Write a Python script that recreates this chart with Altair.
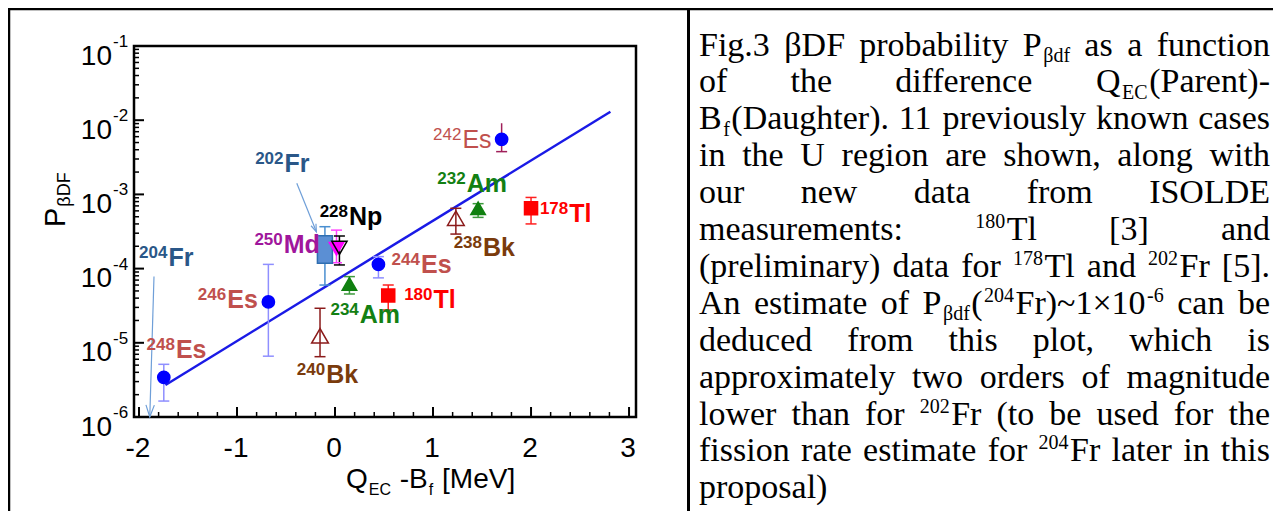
import math
import re
import altair as alt
import pandas as pd

# ---------------- values ----------------
pt_name = ["248Es", "246Es", "244Es", "242Es", "250Md", "228Np",
           "234Am", "232Am", "240Bk", "238Bk", "180Tl", "178Tl"]
pt_x = [-1.747, -0.68, 0.443, 1.70, 0.015, 0.045, 0.147, 1.46, -0.153, 1.233, 0.543, 2.00]
pt_y = [3.43e-6, 3.55e-5, 1.14e-4, 5.53e-3, 1.85e-4, 1.90e-4, 6.2e-5, 6.5e-4, 1.24e-5, 4.77e-4, 4.34e-5, 6.5e-4]
pt_lo = [1.64e-6, 6.6e-6, 7.5e-5, 3.77e-3, 1.2e-4, 1.12e-4, 4.55e-5, 4.9e-4, 6.5e-6, 2.92e-4, 2.77e-5, 4.0e-4]
pt_hi = [5.13e-6, 1.14e-4, 1.45e-4, 9.1e-3, 3.3e-4, 2.75e-4, 7.8e-5, 7.5e-4, 2.92e-5, 6.5e-4, 6.0e-5, 9.1e-4]

# 202Fr (box = range, whiskers = uncertainty)
fr_x = [-0.103]
fr_box_lo = [1.18e-4]
fr_box_hi = [2.77e-4]
fr_err_lo = [6.0e-5]
fr_err_hi = [3.67e-4]

# systematics fit line
fit_x = [-1.73, 2.81]
fit_y = [2.7e-6, 1.30e-2]

# arrows (204Fr estimate, 202Fr pointer)
arr_x = [-1.847, -0.39]
arr_y = [7.8e-5, 1.41e-3]
arr_x2 = [-1.89, -0.19]
arr_y2 = [1.0e-6, 3.14e-4]

# isotope labels
lab_mass = ["248", "246", "244", "242", "204", "202", "250", "228", "234", "232", "240", "238", "180", "178"]
lab_sym = ["Es", "Es", "Es", "Es", "Fr", "Fr", "Md", "Np", "Am", "Am", "Bk", "Bk", "Tl", "Tl"]
lab_x = [-1.623, -1.10, 0.877, 1.30, -1.70, -0.515, -0.523, 0.143, 0.253, 1.343, -0.09, 1.51, 1.005, 2.39]
lab_y = [6.18e-6, 2.92e-5, 8.65e-5, 4.18e-3, 1.08e-4, 2.02e-3, 1.61e-4, 3.87e-4, 1.83e-5, 1.07e-3,
         2.84e-6, 1.49e-4, 2.92e-5, 4.29e-4]

# axes
x_major = [-2, -1, 0, 1, 2, 3]
x_major_lab = ["-2", "-1", "0", "1", "2", "3"]
x_minor = [-1.8, -1.6, -1.4, -1.2, -0.8, -0.6, -0.4, -0.2, 0.2, 0.4, 0.6, 0.8,
           1.2, 1.4, 1.6, 1.8, 2.2, 2.4, 2.6, 2.8]
y_major = [1e-6, 1e-5, 1e-4, 1e-3, 1e-2, 1e-1]
y_major_exp = ["-6", "-5", "-4", "-3", "-2", "-1"]
y_minor = [m * 10.0 ** e for e in range(-6, -1) for m in range(2, 10)]

caption_lines = [
    "Fig.3 βDF probability P_{βdf} as a function",
    "of the difference Q_{EC}(Parent)-",
    "B_{f}(Daughter). 11 previously known cases",
    "in the U region are shown, along with",
    "our new data from ISOLDE",
    "measurements: ^{180}Tl [3] and",
    "(preliminary) data for ^{178}Tl and ^{202}Fr [5].",
    "An estimate of P_{βdf}(^{204}Fr)~1×10^{-6} can be",
    "deduced from this plot, which is",
    "approximately two orders of magnitude",
    "lower than for ^{202}Fr (to be used for the",
    "fission rate estimate for ^{204}Fr later in this",
    "proposal)",
]

# ---------------- styles ----------------
pt_shape = ["circle"] * 4 + ["triangle-down", "triangle-down", "triangle-up", "triangle-up",
                             "triangle-up", "triangle-up", "square", "square"]
pt_fill = ["#0000ff"] * 4 + ["#ff00ff", "transparent", "#108010", "#108010",
                             "transparent", "transparent", "#ff0000", "#ff0000"]
pt_stroke = ["#0000ff"] * 4 + ["#ff00ff", "#000000", "#108010", "#108010",
                               "#8b1a1a", "#8b1a1a", "#ff0000", "#ff0000"]
pt_size = [150, 150, 150, 150, 210, 230, 210, 210, 280, 280, 170, 170]
err_color = ["#8f8fff", "#8f8fff", "#8f8fff", "#a0205a", "#ff40ff", "#000000",
             "#3c9a3c", "#3c9a3c", "#8b1a1a", "#8b1a1a", "#ff2020", "#ff2020"]
lab_color = ["#c0504d", "#c0504d", "#c0504d", "#c0504d", "#2a5788", "#2a5788", "#a0169c", "#000000",
             "#138013", "#138013", "#7a3b0c", "#7a3b0c", "#ff0000", "#ff0000"]
lab_bold = [True, True, True, False, True, True, True, True, True, True, True, True, True, True]

PLOT_W, PLOT_H = 502, 371
PX_PER_MEV = PLOT_W / 5.02
PX_PER_DEC = PLOT_H / 5.0
SANS = "Liberation Sans"
SERIF = "Liberation Serif"

xs = alt.Scale(domain=[-2, 3.02], nice=False, zero=False)
ys = alt.Scale(type="log", domain=[1e-6, 1e-1], nice=False)
X = alt.X("x:Q", scale=xs, axis=None)
Y = alt.Y("y:Q", scale=ys, axis=None)

TIMES = {' ': 250, 'a': 444, 'b': 500, 'c': 444, 'd': 500, 'e': 444, 'f': 333, 'g': 500, 'h': 500,
         'i': 278, 'j': 278, 'k': 500, 'l': 278, 'm': 778, 'n': 500, 'o': 500, 'p': 500, 'q': 500,
         'r': 333, 's': 389, 't': 278, 'u': 500, 'v': 500, 'w': 722, 'x': 500, 'y': 500, 'z': 444,
         'A': 722, 'B': 667, 'C': 667, 'D': 722, 'E': 611, 'F': 556, 'G': 722, 'H': 722, 'I': 333,
         'L': 611, 'M': 889, 'N': 722, 'O': 722, 'P': 556, 'Q': 722, 'R': 667, 'S': 556, 'T': 611,
         'U': 722, '.': 250, ',': 250, ':': 278, '(': 333, ')': 333, '-': 333, '[': 333, ']': 333,
         '~': 541, '×': 564, 'β': 500}
for d in "0123456789":
    TIMES[d] = 500
ARIAL = {' ': 278, '-': 333, '[': 278, ']': 278, 'B': 667, 'C': 722, 'D': 722, 'E': 667, 'F': 611,
         'M': 833, 'P': 667, 'Q': 778, 'V': 667, 'e': 556, 'f': 278, 'β': 575}


def width_of(s, table, fs):
    return sum(table.get(c, 500) for c in s) * fs / 1000.0


def parse_word(word):
    parts = []
    for m in re.finditer(r'_\{([^}]*)\}|\^\{([^}]*)\}|([^_^]+)', word):
        if m.group(1) is not None:
            parts.append((m.group(1), 'sub'))
        elif m.group(2) is not None:
            parts.append((m.group(2), 'sup'))
        else:
            parts.append((m.group(3), 'n'))
    return parts


# ---------------- caption layout (justified) ----------------
CFS = {'n': 34, 'sub': 20, 'sup': 20}
CDY = {'n': 0, 'sub': 6.5, 'sup': -12}
SEG_GAP = 1.5
L, R = 565, 1136
cap_rows = []
for i, line in enumerate(caption_lines):
    base = 9.5 + i * 36.9
    words = [parse_word(w) for w in line.split(' ')]
    widths = [sum(width_of(t, TIMES, CFS[k]) for t, k in wd) + SEG_GAP * (len(wd) - 1) for wd in words]
    if i < len(caption_lines) - 1 and len(words) > 1:
        gap = (R - L - sum(widths)) / (len(words) - 1)
    else:
        gap = 0.25 * 34
    xcur = L
    for wd, ww in zip(words, widths):
        xx = xcur
        for t, k in wd:
            cap_rows.append(dict(px=xx, py=base + CDY[k], text=t, fs=CFS[k]))
            xx += width_of(t, TIMES, CFS[k]) + SEG_GAP
        xcur += ww + gap
cap_df = pd.DataFrame(cap_rows)

# ---------------- axis titles (sans) ----------------
sans_rows = []
xt = [("Q", 28, 0), ("EC", 16, 7), (" -B", 28, 0), ("f", 16, 7), (" [MeV]", 28, 0)]
xx = 212
for t, fs, dy in xt:
    lead = len(t) - len(t.lstrip(' '))
    xx += width_of(' ' * lead, ARIAL, fs)
    sans_rows.append(dict(px=xx, py=442.3 + dy, text=t.strip(), fs=fs, ang=0))
    xx += width_of(t.strip(), ARIAL, fs) + 1
sans_rows.append(dict(px=-69, py=181, text="P", fs=29, ang=270))
sans_rows.append(dict(px=-64, py=180 - width_of("P", ARIAL, 29), text="βDF", fs=18, ang=270))
sans_df = pd.DataFrame(sans_rows)

# ---------------- layers ----------------
pts = pd.DataFrame(dict(name=pt_name, x=pt_x, y=pt_y, lo=pt_lo, hi=pt_hi, shape=pt_shape,
                        fill=pt_fill, stroke=pt_stroke, size=pt_size, ecol=err_color))

fit = alt.Chart(pd.DataFrame(dict(x=fit_x, y=fit_y))).mark_line(
    color="#1a1ae6", strokeWidth=2.5).encode(x=X, y=Y)

ang = []
for x1, y1, x2, y2 in zip(arr_x, arr_y, arr_x2, arr_y2):
    dxp = (x2 - x1) * PX_PER_MEV
    dyp = (math.log10(y1) - math.log10(y2)) * PX_PER_DEC
    ang.append((-math.degrees(math.atan2(dxp, dyp))) % 360)
arr_df = pd.DataFrame(dict(x=arr_x, y=arr_y, x2=arr_x2, y2=arr_y2, ang=ang, hs=[576, 230]))
arrows = alt.Chart(arr_df).mark_rule(color="#6f9fd8", strokeWidth=1.2).encode(
    x=X, y=Y, x2="x2:Q", y2="y2:Q")
heads = alt.Chart(arr_df).mark_point(shape="M-0.35,-1L0,0L0.35,-1", filled=False, color="#6f9fd8",
                                     strokeWidth=1.2, opacity=1).encode(
    x=alt.X("x2:Q", scale=xs, axis=None), y=alt.Y("y2:Q", scale=ys, axis=None),
    angle=alt.Angle("ang:Q", scale=None), size=alt.Size("hs:Q", scale=None))

err_rule = alt.Chart(pts).mark_rule(strokeWidth=1.5).encode(
    x=X, y=alt.Y("lo:Q", scale=ys, axis=None), y2="hi:Q", color=alt.Color("ecol:N", scale=None))
cap_lo = alt.Chart(pts).mark_tick(orient="horizontal", size=11, thickness=1.5, opacity=1).encode(
    x=X, y=alt.Y("lo:Q", scale=ys, axis=None), color=alt.Color("ecol:N", scale=None))
cap_hi = alt.Chart(pts).transform_filter(alt.datum.name != "242Es").mark_tick(
    orient="horizontal", size=11, thickness=1.5, opacity=1).encode(
    x=X, y=alt.Y("hi:Q", scale=ys, axis=None), color=alt.Color("ecol:N", scale=None))

fr_df = pd.DataFrame(dict(x=fr_x, blo=fr_box_lo, bhi=fr_box_hi, elo=fr_err_lo, ehi=fr_err_hi))
fr_err = alt.Chart(fr_df).mark_rule(color="#4a8fd0", strokeWidth=1.5).encode(
    x=X, y=alt.Y("elo:Q", scale=ys, axis=None), y2="ehi:Q")
fr_cap_lo = alt.Chart(fr_df).mark_tick(orient="horizontal", size=11, thickness=1.5, opacity=1,
                                       color="#4a8fd0").encode(x=X, y=alt.Y("elo:Q", scale=ys, axis=None))
fr_cap_hi = alt.Chart(fr_df).mark_tick(orient="horizontal", size=11, thickness=1.5, opacity=1,
                                       color="#4a8fd0").encode(x=X, y=alt.Y("ehi:Q", scale=ys, axis=None))
fr_box = alt.Chart(fr_df).mark_bar(width=15, fill="#5b8fd4", stroke="#2f6eb0", strokeWidth=1.5).encode(
    x=X, y=alt.Y("blo:Q", scale=ys, axis=None), y2="bhi:Q")

points = alt.Chart(pts).mark_point(opacity=1, strokeWidth=1.5).encode(
    x=X, y=Y, shape=alt.Shape("shape:N", scale=None), fill=alt.Fill("fill:N", scale=None),
    stroke=alt.Stroke("stroke:N", scale=None), size=alt.Size("size:Q", scale=None))

labs = pd.DataFrame(dict(mass=lab_mass, sym=lab_sym, x=lab_x, y=lab_y, col=lab_color, bold=lab_bold))
label_layers = []
for is_bold in (True, False):
    sub = labs[labs["bold"] == is_bold]
    wt = "bold" if is_bold else "normal"
    label_layers.append(alt.Chart(sub).mark_text(
        font=SANS, fontSize=17, fontWeight=wt, align="right", baseline="alphabetic", dy=-8, dx=-1).encode(
        x=X, y=Y, text="mass:N", color=alt.Color("col:N", scale=None)))
    label_layers.append(alt.Chart(sub).mark_text(
        font=SANS, fontSize=25, fontWeight=wt, align="left", baseline="alphabetic").encode(
        x=X, y=Y, text="sym:N", color=alt.Color("col:N", scale=None)))

yv = alt.Y("v:Q", scale=ys, axis=None)
xv = alt.X("v:Q", scale=xs, axis=None)
ytick_maj = alt.Chart(pd.DataFrame({"v": y_major})).mark_rule(color="black", strokeWidth=2).encode(
    y=yv, x=alt.value(0), x2=alt.value(10))
ytick_min = alt.Chart(pd.DataFrame({"v": y_minor})).mark_rule(color="black", strokeWidth=1.5).encode(
    y=yv, x=alt.value(0), x2=alt.value(5))
xtick_maj = alt.Chart(pd.DataFrame({"v": x_major})).mark_rule(color="black", strokeWidth=2).encode(
    x=xv, y=alt.value(PLOT_H), y2=alt.value(PLOT_H - 10))
xtick_min = alt.Chart(pd.DataFrame({"v": x_minor})).mark_rule(color="black", strokeWidth=1.5).encode(
    x=xv, y=alt.value(PLOT_H), y2=alt.value(PLOT_H - 5))

ylab_df = pd.DataFrame({"v": y_major, "e": y_major_exp})
ylab10 = alt.Chart(ylab_df).mark_text(font=SANS, fontSize=28, align="right", baseline="alphabetic",
                                      dy=18.5, color="black").encode(
    y=yv, x=alt.value(-22), text=alt.value("10"))
ylabexp = alt.Chart(ylab_df).mark_text(font=SANS, fontSize=17, align="left", baseline="alphabetic",
                                       dy=1, color="black").encode(y=yv, x=alt.value(-21), text="e:N")
xlab = alt.Chart(pd.DataFrame({"v": x_major, "t": x_major_lab})).mark_text(
    font=SANS, fontSize=28, align="center", baseline="alphabetic", dx=-1, color="black").encode(
    x=xv, y=alt.value(410.7), text="t:N")

PX = alt.X("px:Q", scale=None, axis=None)
PY = alt.Y("py:Q", scale=None, axis=None)
caption = alt.Chart(cap_df).mark_text(font=SERIF, align="left", baseline="alphabetic", color="black").encode(
    x=PX, y=PY, text="text:N", size=alt.Size("fs:Q", scale=None))
titles = alt.Chart(sans_df).mark_text(font=SANS, align="left", baseline="alphabetic", color="black").encode(
    x=PX, y=PY, text="text:N", size=alt.Size("fs:Q", scale=None), angle=alt.Angle("ang:Q", scale=None))

one = pd.DataFrame({"k": [0]})
b_top = alt.Chart(one).mark_rule(color="black", strokeWidth=2.5).encode(
    x=alt.value(-126), x2=alt.value(1140), y=alt.value(-37))
b_left = alt.Chart(one).mark_rule(color="black", strokeWidth=2.5).encode(
    x=alt.value(-125), y=alt.value(-38), y2=alt.value(470))
b_mid = alt.Chart(one).mark_rule(color="black", strokeWidth=3).encode(
    x=alt.value(554.5), y=alt.value(-38), y2=alt.value(470))

layers = [fit, arrows, heads, err_rule, cap_lo, cap_hi, fr_err, fr_cap_lo, fr_cap_hi, fr_box, points,
          *label_layers, ytick_maj, ytick_min, xtick_maj, xtick_min, ylab10, ylabexp, xlab,
          caption, titles, b_top, b_left, b_mid]

chart = alt.layer(*layers).properties(
    width=PLOT_W, height=PLOT_H,
    padding={"left": 126, "top": 38, "right": 637, "bottom": 94},
    autosize=alt.AutoSizeParams(type="none"),
    background="white",
).configure_view(stroke="black", strokeWidth=2.5)

chart.save("out.html", embed_options={"renderer": "svg", "actions": False})
